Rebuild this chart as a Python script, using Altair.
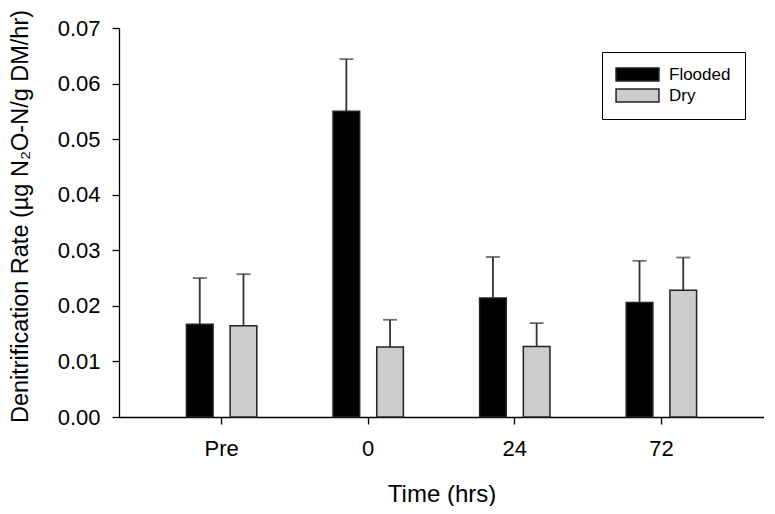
import altair as alt
import pandas as pd

times = ["Pre", "0", "24", "72"]
series = ["Flooded", "Dry"]
flooded_mean = [0.0167, 0.0550, 0.0214, 0.0206]
flooded_upper = [0.0250, 0.0644, 0.0288, 0.0281]
dry_mean = [0.0164, 0.0126, 0.0127, 0.0228]
dry_upper = [0.0257, 0.0175, 0.0169, 0.0287]
y_ticks = [0.0, 0.01, 0.02, 0.03, 0.04, 0.05, 0.06, 0.07]

rows = []
for i, t in enumerate(times):
    rows.append({"time": t, "group": "Flooded", "mean": flooded_mean[i], "upper": flooded_upper[i]})
    rows.append({"time": t, "group": "Dry", "mean": dry_mean[i], "upper": dry_upper[i]})
df = pd.DataFrame(rows)

FONT = "Liberation Sans"

x_enc = alt.X("time:N", sort=times,
              scale=alt.Scale(paddingInner=0.52, paddingOuter=0.46),
              axis=alt.Axis(title="Time (hrs)", labelAngle=0, titleY=84,
                            titleBaseline="alphabetic", labelPadding=14,
                            titleFontSize=24))
xo_enc = alt.XOffset("group:N", sort=series,
                     scale=alt.Scale(paddingInner=0.39, paddingOuter=0))
y_enc = alt.Y("mean:Q",
              scale=alt.Scale(domain=[0, 0.07], nice=False, zero=True),
              axis=alt.Axis(title="Denitrification Rate (µg N₂O-N/g DM/hr)",
                            values=y_ticks, format=".2f", titleX=-92,
                            titleY=188, titleBaseline="alphabetic",
                            titleAngle=-90, titleAlign="center", labelPadding=12,
                            titleFontSize=23.5))

color_enc = alt.Color("group:N", sort=series,
                      scale=alt.Scale(domain=series, range=["#000000", "#cccccc"]),
                      legend=alt.Legend(orient="none", legendX=483, legendY=24, title=None,
                                        symbolType="M-1.3,-1H5.3V1H-1.3Z", symbolSize=169,
                                        labelFontSize=17, labelFont=FONT, labelColor="black",
                                        strokeColor="black", fillColor="white", padding=14,
                                        rowPadding=2, symbolStrokeColor="#222222",
                                        symbolStrokeWidth=1.5, labelOffset=36,
                                        symbolOpacity=1))

bars = alt.Chart(df).mark_bar(stroke="#222222", strokeWidth=1.5).encode(
    x=x_enc, xOffset=xo_enc, y=y_enc, color=color_enc)

rules = alt.Chart(df).mark_rule(color="#333333", strokeWidth=1.8).encode(
    x=alt.X("time:N", sort=times), xOffset=alt.XOffset("group:N", sort=series),
    y=alt.Y("mean:Q"), y2=alt.Y2("upper:Q"))

caps = alt.Chart(df).mark_tick(color="#333333", thickness=1.8, size=14).encode(
    x=alt.X("time:N", sort=times), xOffset=alt.XOffset("group:N", sort=series),
    y=alt.Y("upper:Q"))

chart = alt.layer(bars, rules, caps).properties(
    width=645, height=389,
    autosize=alt.AutoSizeParams(type="none"),
    padding={"left": 111, "top": 20, "right": 0, "bottom": 89},
).configure_view(stroke=None).configure_axis(
    labelFont=FONT, titleFont=FONT, labelFontSize=22,
    labelColor="black", titleColor="black", titleFontWeight="normal",
    domainColor="black", tickColor="black", domainWidth=1.3, tickWidth=1.3,
    tickSize=7, grid=False
)

chart.save("out.html", embed_options={"renderer": "svg", "actions": False})
